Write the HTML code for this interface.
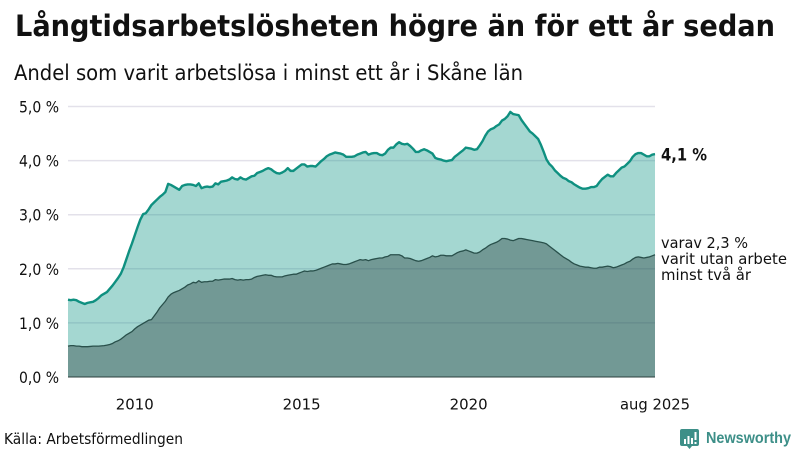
<!DOCTYPE html>
<html lang="sv">
<head>
<meta charset="utf-8">
<title>Långtidsarbetslösheten högre än för ett år sedan</title>
<style>
html,body{margin:0;padding:0;background:#fff;}
body{width:800px;height:450px;overflow:hidden;}
svg{display:block;}
text{font-family:"DejaVu Sans","Liberation Sans",sans-serif;fill:#111;}
</style>
</head>
<body>
<svg id="chart" xmlns="http://www.w3.org/2000/svg" width="800" height="450" viewBox="0 0 800 450">
  <text x="15" y="36" font-size="29" font-weight="700" textLength="760" lengthAdjust="spacingAndGlyphs">Långtidsarbetslösheten högre än för ett år sedan</text>
  <text x="14" y="80" font-size="21" textLength="509" lengthAdjust="spacingAndGlyphs">Andel som varit arbetslösa i minst ett år i Skåne län</text>
  <g id="grid"></g>
  <g id="marks"></g>
  <g id="yaxis"></g>
  <g id="xaxis"></g>
  <text x="661" y="160.500" font-size="17" font-weight="700" textLength="46" lengthAdjust="spacingAndGlyphs">4,1 %</text>
  <text x="661" y="248" font-size="15.500" textLength="87" lengthAdjust="spacingAndGlyphs">varav 2,3 %</text>
  <text x="661" y="264" font-size="15.500" textLength="126" lengthAdjust="spacingAndGlyphs">varit utan arbete</text>
  <text x="661" y="280" font-size="15.500" textLength="90" lengthAdjust="spacingAndGlyphs">minst två år</text>
  <text x="4" y="444" font-size="15" textLength="179" lengthAdjust="spacingAndGlyphs">Källa: Arbetsförmedlingen</text>
  <g>
    <path d="M682 429h15a2 2 0 0 1 2 2v13a2 2 0 0 1-2 2h-5l-2.500 3-2.500-3h-5a2 2 0 0 1-2-2v-13a2 2 0 0 1 2-2z" fill="#3d8f88"/>
    <rect x="684" y="439" width="2" height="5" fill="#fff"/>
    <rect x="687.500" y="436" width="2" height="8" fill="#fff"/>
    <rect x="691" y="438" width="2" height="6" fill="#fff"/>
    <rect x="694.500" y="432" width="2" height="8" fill="#fff"/>
    <rect x="694.500" y="442" width="2" height="2" fill="#fff"/>
    <text x="706" y="443" font-size="16" font-weight="700" textLength="85" lengthAdjust="spacingAndGlyphs" style="fill:#3d8f88;font-family:'Liberation Sans',sans-serif">Newsworthy</text>
  </g>
</svg>
<script>
const totalShare = [
  1.43,1.42,1.43,1.42,1.39,1.37,1.35,1.37,1.38,1.39,1.42,1.46,
  1.51,1.54,1.57,1.63,1.69,1.76,1.83,1.91,2.03,2.18,2.33,2.47,
  2.62,2.77,2.91,3.01,3.03,3.10,3.18,3.23,3.28,3.33,3.37,3.42,
  3.57,3.55,3.52,3.49,3.46,3.53,3.55,3.56,3.56,3.55,3.53,3.58,
  3.49,3.51,3.52,3.51,3.52,3.58,3.56,3.61,3.62,3.63,3.65,3.69,
  3.66,3.65,3.69,3.66,3.65,3.68,3.71,3.72,3.77,3.79,3.81,3.84,
  3.86,3.84,3.80,3.77,3.76,3.78,3.81,3.86,3.81,3.81,3.85,3.89,
  3.93,3.93,3.89,3.90,3.90,3.89,3.94,3.99,4.03,4.08,4.11,4.13,
  4.15,4.14,4.13,4.11,4.07,4.07,4.07,4.08,4.11,4.13,4.15,4.16,
  4.11,4.13,4.14,4.14,4.11,4.10,4.13,4.20,4.24,4.24,4.30,4.34,
  4.31,4.30,4.31,4.27,4.22,4.16,4.16,4.19,4.21,4.19,4.16,4.13,
  4.05,4.03,4.02,4.00,3.99,4.00,4.01,4.07,4.11,4.15,4.19,4.24,
  4.23,4.22,4.20,4.21,4.28,4.36,4.46,4.54,4.58,4.60,4.64,4.67,
  4.74,4.77,4.82,4.90,4.86,4.85,4.84,4.75,4.68,4.61,4.54,4.50,
  4.45,4.40,4.29,4.16,4.02,3.94,3.89,3.82,3.77,3.72,3.68,3.66,
  3.62,3.60,3.56,3.53,3.50,3.48,3.48,3.49,3.51,3.51,3.53,3.60,
  3.66,3.70,3.74,3.71,3.71,3.77,3.82,3.87,3.89,3.94,3.99,4.07,
  4.12,4.14,4.14,4.11,4.08,4.08,4.11,4.12
];
const twoYearShare = [
  0.57,0.58,0.58,0.57,0.57,0.56,0.56,0.56,0.565,0.57,0.57,0.57,
  0.575,0.58,0.59,0.60,0.62,0.65,0.67,0.70,0.74,0.78,0.81,0.84,
  0.89,0.93,0.96,0.99,1.02,1.05,1.06,1.13,1.20,1.28,1.34,1.40,
  1.48,1.53,1.56,1.58,1.60,1.63,1.66,1.70,1.72,1.75,1.74,1.78,
  1.75,1.76,1.76,1.77,1.77,1.80,1.79,1.80,1.81,1.81,1.81,1.82,
  1.80,1.79,1.80,1.79,1.80,1.80,1.81,1.84,1.86,1.87,1.88,1.89,
  1.88,1.88,1.86,1.85,1.85,1.85,1.87,1.88,1.89,1.90,1.90,1.92,
  1.94,1.96,1.95,1.96,1.96,1.97,1.99,2.01,2.03,2.05,2.07,2.09,
  2.09,2.10,2.09,2.08,2.08,2.09,2.11,2.13,2.15,2.17,2.16,2.17,
  2.15,2.17,2.18,2.19,2.20,2.20,2.22,2.23,2.26,2.26,2.26,2.26,
  2.24,2.20,2.20,2.19,2.17,2.15,2.14,2.15,2.17,2.19,2.21,2.24,
  2.22,2.23,2.25,2.25,2.24,2.24,2.24,2.27,2.30,2.32,2.33,2.35,
  2.33,2.31,2.29,2.29,2.31,2.35,2.38,2.42,2.45,2.47,2.49,2.52,
  2.56,2.56,2.55,2.53,2.52,2.54,2.56,2.56,2.55,2.54,2.53,2.52,
  2.51,2.50,2.49,2.48,2.46,2.42,2.38,2.34,2.30,2.26,2.22,2.19,
  2.16,2.12,2.09,2.07,2.05,2.04,2.03,2.03,2.02,2.01,2.01,2.03,
  2.03,2.04,2.05,2.04,2.02,2.03,2.05,2.07,2.09,2.12,2.14,2.18,
  2.21,2.22,2.21,2.20,2.21,2.22,2.24,2.26
];
const yTickValues = [0,1,2,3,4,5];
const yTickLabels = ["0,0 %","1,0 %","2,0 %","3,0 %","4,0 %","5,0 %"];
const xTickMonths = [24,84,144,211];
const xTickLabels = ["2010","2015","2020","aug 2025"];

const NS = "http://www.w3.org/2000/svg";
const plot = {left:68, right:655, top:106.5, bottom:377};
const xScale = function (i) {
  return plot.left + (plot.right - plot.left) * i / (totalShare.length - 1);
};
const yScale = function (v) {
  return plot.bottom - (plot.bottom - plot.top) * v / 5;
};
function linePath(values) {
  return values.map(function (v, i) {
    return (i ? "L" : "M") + xScale(i).toFixed(2) + " " + yScale(v).toFixed(2);
  }).join("");
}
function areaPath(values) {
  return linePath(values) + "L" + xScale(values.length - 1).toFixed(2) + " " + yScale(0) + "L" + xScale(0).toFixed(2) + " " + yScale(0) + "Z";
}
function make(tag, attrs, parent) {
  const el = document.createElementNS(NS, tag);
  Object.keys(attrs).forEach(function (k) { el.setAttribute(k, attrs[k]); });
  parent.appendChild(el);
  return el;
}
const gridG = document.getElementById("grid");
const marksG = document.getElementById("marks");
const yG = document.getElementById("yaxis");
const xG = document.getElementById("xaxis");

yTickValues.forEach(function (v, i) {
  if (v > 0) {
    const g = make("line", {x1:plot.left, x2:plot.right, y1:yScale(v), y2:yScale(v), stroke:"#e3e1ea", "stroke-width":1.5}, gridG);
    
    
  }
  const t = make("text", {x:19, y:yScale(v) + 6, "font-size":16, textLength:40, lengthAdjust:"spacingAndGlyphs"}, yG);
  
  
  t.textContent = yTickLabels[i];
});

const totalArea = make("path", {d:areaPath(totalShare), fill:"#0f9687", "fill-opacity":0.38}, marksG);


const twoYearArea = make("path", {d:areaPath(twoYearShare), fill:"#283c3c", "fill-opacity":0.4}, marksG);


const totalLine = make("path", {d:linePath(totalShare), fill:"none", stroke:"#0f9080", "stroke-width":2.4, "stroke-linejoin":"round"}, marksG);


const twoYearLine = make("path", {d:linePath(twoYearShare), fill:"none", stroke:"#29504b", "stroke-width":1.3, "stroke-linejoin":"round"}, marksG);


const baseline = make("line", {x1:plot.left, x2:plot.right, y1:yScale(0), y2:yScale(0), stroke:"#2b3f3d", "stroke-width":1}, marksG);



xTickMonths.forEach(function (m, i) {
  const t = make("text", {x:xScale(m), y:409.5, "font-size":15.5, "text-anchor":"middle"}, xG);
  
  
  t.setAttribute('textLength', xTickLabels[i].length > 4 ? 70 : 38);
  t.setAttribute('lengthAdjust', 'spacingAndGlyphs');
  t.textContent = xTickLabels[i];
});
</script>
</body>
</html>
